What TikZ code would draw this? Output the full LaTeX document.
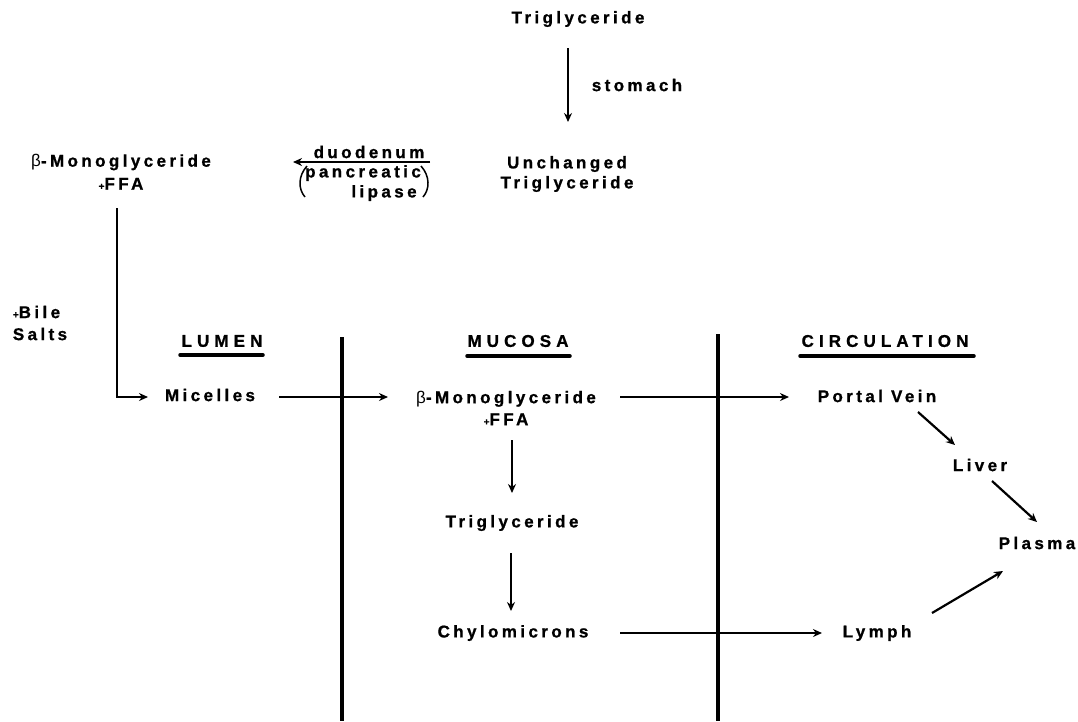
\documentclass[tikz,border=0pt]{standalone}
\usepackage{fontspec}
\setmainfont{Liberation Sans}[LetterSpace=20,BoldFeatures={FakeBold=1}]
\newfontfamily\capsfont{Liberation Sans}[LetterSpace=30,BoldFeatures={FakeBold=1}]
\usetikzlibrary{arrows.meta,calc}
\begin{document}
\begin{tikzpicture}[x=1pt,y=-1pt,
  lbl/.style={inner sep=0pt,font=\fontsize{17}{21}\selectfont\bfseries,align=center},
  head/.style={inner sep=0pt,font=\capsfont\fontsize{17}{21}\selectfont\bfseries},
  arr/.style={line width=2.2pt,-{Stealth[length=9pt,width=8pt]}},
  uline/.style={line width=3.5pt,line cap=round},
  divider/.style={line width=3.2pt}]
\useasboundingbox (0,0) rectangle (1078,721);
\newcommand{\smp}{{\fontsize{10}{10}\selectfont+}}
% nodes
\node[lbl] (tg1) at (578,19) {Triglyceride};
\node[lbl] (stom) at (637,85) {stomach};
\node[lbl,font=\fontsize{17}{20}\selectfont\bfseries] (utg) at (567,174) {Unchanged\\Triglyceride};
\node[lbl] (duo) at (369,152) {duodenum};
\node[lbl] (panc) at (363,173) {pancreatic};
\node[lbl] (lip) at (384,193) {lipase};
\node[lbl,font=\fontsize{17}{23}\selectfont\bfseries] (mg1) at (121,172) {{\mdseries β}-Monoglyceride\\\smp FFA};
\node[lbl,align=left,font=\fontsize{17}{22}\selectfont\bfseries] (bile) at (40,323) {\smp Bile\\Salts};
\node[head] (lumen) at (222,341) {LUMEN};
\node[head] (mucosa) at (518,341) {MUCOSA};
\node[head] (circ) at (885,341) {CIRCULATION};
\node[lbl] (mic) at (210,395) {Micelles};
\node[lbl,font=\fontsize{17}{22}\selectfont\bfseries] (mg2) at (506,408) {{\mdseries β}-Monoglyceride\\\smp FFA};
\node[lbl] (tg2) at (512,523) {Triglyceride};
\node[lbl] (chy) at (513,633) {Chylomicrons};
\node[lbl] (pv) at (877,396) {Portal Vein};
\node[lbl] (liver) at (980,465) {Liver};
\node[lbl] (plasma) at (1037,543) {Plasma};
\node[lbl] (lymph) at (877,633) {Lymph};
% dividers
\coordinate (d1t) at (342,337); \coordinate (d1b) at (342,721);
\coordinate (d2t) at (718,334); \coordinate (d2b) at (718,721);
\draw[divider] (d1t) -- (d1b);
\draw[divider] (d2t) -- (d2b);
% underlines
\draw[uline] ($(lumen)+(-42,14)$) -- ($(lumen)+(41,14)$);
\draw[uline] ($(mucosa)+(-51,15)$) -- ($(mucosa)+(52,15)$);
\draw[uline] ($(circ)+(-85,15)$) -- ($(circ)+(89,15)$);
% parentheses
\draw[line width=1.5pt] ($(panc)+(-56,-7)$) .. controls ($(panc)+(-65,3)$) and ($(panc)+(-65,16)$) .. ($(panc)+(-58,24)$);
\draw[line width=1.5pt] ($(panc)+(58,-7)$) .. controls ($(panc)+(67,3)$) and ($(panc)+(67,16)$) .. ($(panc)+(60,24)$);
% arrows
\draw[arr] ($(tg1)+(-10,29)$) -- ($(utg)+(1,-52)$);
\draw[arr] ($(duo)+(61,10)$) -- ($(duo)+(-76,10)$);
\draw[arr] ($(mg1)+(-4,36)$) |- ($(mic)+(-62,2)$);
\draw[arr] ($(mic)+(69,2)$) -- ($(mg2)+(-118,-11)$);
\draw[arr] ($(mg2)+(114,-11)$) -- ($(pv)+(-88,1)$);
\draw[arr] ($(mg2)+(6,32)$) -- ($(tg2)+(0,-30)$);
\draw[arr] ($(tg2)+(-1,30)$) -- ($(chy)+(-2,-22)$);
\draw[arr] ($(chy)+(107,0)$) -- ($(lymph)+(-55,0)$);
\draw[arr] ($(pv)+(41,16)$) -- ($(liver)+(-25,-20)$);
\draw[arr] ($(liver)+(12,16)$) -- ($(plasma)+(0,-21)$);
\draw[arr] ($(lymph)+(55,-20)$) -- ($(plasma)+(-34,28)$);
\end{tikzpicture}
\end{document}
